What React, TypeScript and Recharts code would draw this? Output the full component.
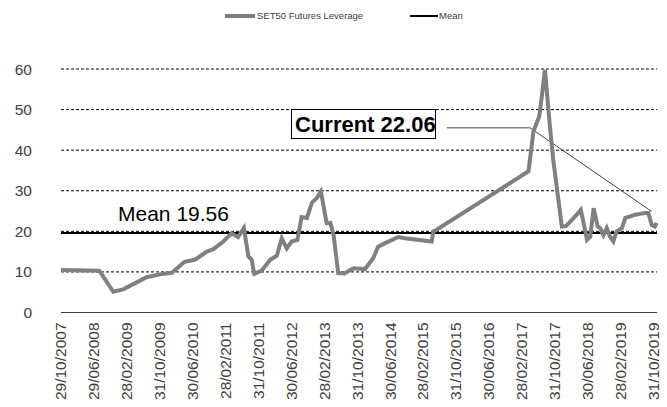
import { LineChart, Line, XAxis, YAxis, CartesianGrid, ReferenceLine } from 'recharts';

// month offsets from Oct 2007 (decimal = position between month ends)
const months = [
  0, 9.3, 12.7, 15.1, 20.8, 24.0, 26.9, 30.0, 32.5, 35.4, 37.0, 39.4, 41.4, 43.0, 44.4, 45.5,
  46.3, 46.9, 48.7, 50.8, 52.4, 53.6, 54.8, 56.0, 57.4, 58.4, 59.7, 60.9, 62.1, 63.1, 64.5,
  65.4, 66.2, 67.3, 68.8, 71.0, 73.8, 75.8, 77.0, 78.7, 81.9, 83.5, 90.0, 90.4, 91.2, 113.5,
  114.7, 116.1, 116.7, 117.5, 118.7, 119.5, 121.6, 122.6, 125.4, 126.2, 127.2, 127.7, 128.5,
  129.3, 130.3, 130.9, 131.7, 132.5, 133.3, 134.1, 134.9, 136.2, 137.0, 138.2, 139.4, 140.6,
  141.8, 142.6, 143.4, 144.2, 144.6,
];

const leverage = [
  10.5, 10.3, 5.1, 5.7, 8.7, 9.4, 9.8, 12.5, 13.0, 15.0, 15.6, 17.5, 19.5, 18.6, 20.8, 13.8,
  13.0, 9.5, 10.3, 13.0, 14.0, 18.3, 15.8, 17.5, 17.9, 23.5, 23.3, 27.0, 28.2, 29.8, 22.0,
  22.1, 19.0, 9.7, 9.6, 10.9, 10.7, 13.4, 16.2, 17.1, 18.6, 18.3, 17.5, 20.0, 20.4, 34.8,
  44.6, 48.3, 52.9, 59.8, 45.9, 37.7, 21.2, 21.3, 24.3, 25.3, 20.4, 17.9, 18.7,
  25.7, 21.2, 20.8, 19.1, 20.8, 18.7, 17.5, 20.0, 20.8, 23.3, 23.7, 24.1, 24.3,
  24.5, 24.5, 21.6, 21.2, 22.06,
];

const tickLabels = [
  '29/10/2007', '29/06/2008', '28/02/2009', '31/10/2009', '30/06/2010', '28/02/2011',
  '31/10/2011', '30/06/2012', '28/02/2013', '31/10/2013', '30/06/2014', '28/02/2015',
  '31/10/2015', '30/06/2016', '28/02/2017', '31/10/2017', '30/06/2018', '28/02/2019',
  '31/10/2019',
];
const xTicks = tickLabels.map((_, i) => i * 8);
const yTicks = [0, 10, 20, 30, 40, 50, 60];

const MEAN = 19.56;
const CURRENT = 22.06;

const data = months.map((m, i) => ({ m, value: leverage[i] }));

const FONT = '"Liberation Sans", Arial, sans-serif';

function XTick(props: { x?: number; y?: number; payload?: { value: number } }) {
  const { x = 0, y = 0, payload } = props;
  const label = tickLabels[Math.round((payload?.value ?? 0) / 8)];
  return (
    <text transform={`translate(${x + 5},${y + 2}) rotate(-90)`} textAnchor="end" fontSize={15.5} fill="#404040" fontFamily={FONT}>
      {label}
    </text>
  );
}

function YTick(props: { y?: number; payload?: { value: number } }) {
  const { y = 0, payload } = props;
  return (
    <text x={32} y={y} dy={5.5} textAnchor="end" fontSize={15.5} fill="#404040" fontFamily={FONT}>
      {payload?.value}
    </text>
  );
}

export default function App() {
  return (
    <div style={{ position: 'absolute', left: 0, top: 0, width: 667, height: 407, background: '#fff', fontFamily: FONT }}>
      <LineChart width={667} height={407} data={data} margin={{ top: 69, right: 10, left: 0, bottom: 0 }}>
        <CartesianGrid vertical={false} stroke="#000" strokeDasharray="3 2" />
        <XAxis
          dataKey="m"
          type="number"
          domain={[0, 144.7]}
          ticks={xTicks}
          interval={0}
          height={94.5}
          tickLine={false}
          axisLine={{ stroke: '#404040' }}
          tick={<XTick />}
        />
        <YAxis
          type="number"
          domain={[0, 60]}
          ticks={yTicks}
          width={61}
          tickLine={false}
          axisLine={false}
          tick={<YTick />}
        />
        <ReferenceLine y={MEAN} stroke="#000" strokeWidth={2} />
        <ReferenceLine segment={[{ x: 93.7, y: 45.5 }, { x: 113.9, y: 45.5 }]} stroke="#404040" strokeWidth={1} ifOverflow="visible" />
        <ReferenceLine segment={[{ x: 113.9, y: 45.5 }, { x: 143.4, y: 24.9 }]} stroke="#404040" strokeWidth={1} ifOverflow="visible" />
        <Line type="linear" dataKey="value" stroke="#808080" strokeWidth={4} dot={false} isAnimationActive={false} />
      </LineChart>

      {/* legend */}
      <div style={{ position: 'absolute', left: 225, top: 14, width: 30, height: 4, background: '#808080' }} />
      <div style={{ position: 'absolute', left: 257, top: 10, fontSize: 9.5, lineHeight: '12px', color: '#404040' }}>SET50 Futures Leverage</div>
      <div style={{ position: 'absolute', left: 410, top: 15, width: 28, height: 2, background: '#000' }} />
      <div style={{ position: 'absolute', left: 439, top: 10, fontSize: 9.5, lineHeight: '12px', color: '#404040' }}>Mean</div>

      {/* annotations */}
      <div style={{ position: 'absolute', left: 118, top: 203, fontSize: 21, lineHeight: '21px', color: '#000', whiteSpace: 'nowrap' }}>
        Mean {MEAN.toFixed(2)}
      </div>
      <div
        style={{
          position: 'absolute', left: 291, top: 109, width: 145, height: 30, boxSizing: 'border-box',
          border: '1px solid #000', paddingLeft: 3, paddingTop: 2, fontSize: 22, lineHeight: '26px',
          fontWeight: 700, color: '#000', background: '#fff', whiteSpace: 'nowrap',
        }}
      >
        Current {CURRENT.toFixed(2)}
      </div>
    </div>
  );
}
